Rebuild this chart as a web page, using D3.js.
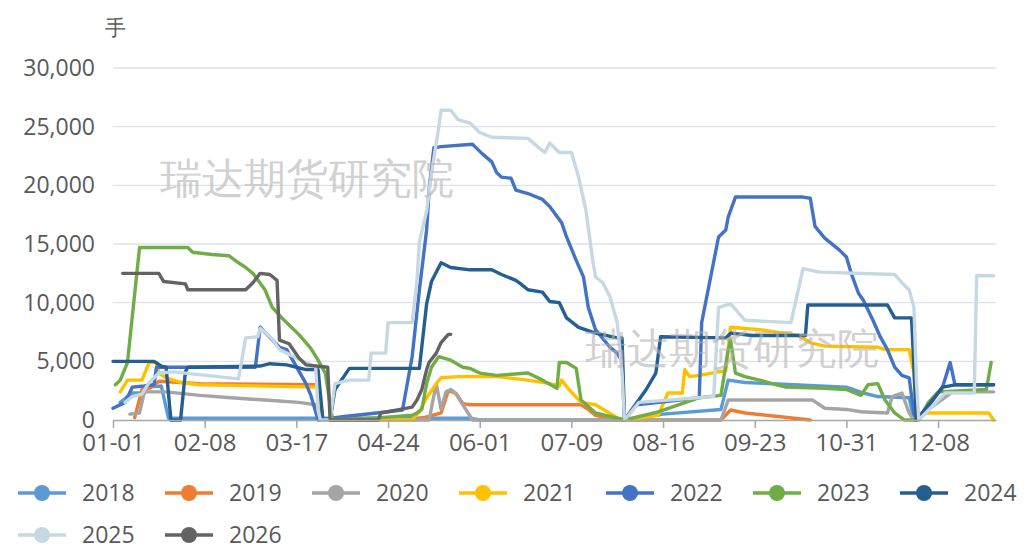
<!DOCTYPE html>
<html>
<head>
<meta charset="utf-8">
<script src="https://d3js.org/d3.v7.min.js"></script>
<style>
    body { margin: 0; background: #fff; }
    text { font-family: "Open Sans", "Noto Sans", sans-serif; fill: #595959; }
</style>
</head>
<body>
<svg id="chart" width="1027" height="549"></svg>
<script>
    // series names and colours (legend order)
    var years = ["2018", "2019", "2020", "2021", "2022", "2023", "2024", "2025", "2026"];
    var colors = ["#5B9BD5", "#ED7D31", "#A5A5A5", "#FFC000", "#4472C4", "#70AD47", "#255E91", "#C6D9E3", "#636363"];

    // category axis labels, every 38 days
    var tickDates = ["01-01", "02-08", "03-17", "04-24", "06-01", "07-09", "08-16", "09-23", "10-31", "12-08"];
    var yTicks = [0, 5000, 10000, 15000, 20000, 25000, 30000];

    // values: [MM-DD, 手]
    var s2018 = [["01-04",1500],["01-07",2000],["01-09",2300],["01-14",2300],["01-15",2800],["01-21",2900],["01-24",150],
        ["05-28",150],["06-01",0],["07-31",0],["08-16",500],["09-09",900],["09-12",3400],["09-19",3200],["10-31",2800],
        ["11-07",2300],["11-13",2000],["11-26",1900],["11-28",0]];
    var s2019 = [["01-10",200],["01-13",2600],["01-16",2700],["01-20",3300],["02-06",3100],["03-26",3000],["03-28",0],
        ["05-04",0],["05-11",300],["05-16",600],["05-19",2500],["05-22",2300],["05-25",1400],["05-28",1300],["07-13",1300],
        ["07-16",900],["07-19",400],["07-28",0],["09-09",0],["09-13",850],["09-19",600],["10-16",0]];
    var s2020 = [["01-08",500],["01-12",600],["01-14",2400],["01-23",2400],["02-06",2100],["02-19",1900],["03-04",1700],
        ["03-18",1500],["03-25",1300],["03-27",0],["05-11",0],["05-14",3100],["05-16",900],["05-18",2400],["05-20",2600],
        ["05-22",2300],["05-25",1300],["05-29",0],["09-09",0],["09-12",1700],["10-17",1700],["10-22",1000],["10-31",900],
        ["11-06",700],["11-17",600],["11-19",2000],["11-23",2300],["11-26",600],["11-28",0],["12-14",2400],["12-31",2400]];
    var s2021 = [["01-04",2400],["01-07",3400],["01-13",3400],["01-16",4900],["01-19",4900],["01-20",4000],["01-23",3600],
        ["01-29",3200],["02-06",3000],["03-26",2800],["03-28",0],["05-04",0],["05-07",700],["05-10",1900],["05-14",3100],
        ["05-16",3600],["05-23",3700],["06-08",3700],["06-21",3400],["06-30",3100],["07-04",2900],["07-05",3400],
        ["07-08",2600],["07-13",1500],["07-19",1300],["07-23",800],["07-28",200],["07-31",0],["08-14",400],["08-18",2300],
        ["08-24",2300],["08-25",4300],["08-27",3700],["08-31",3800],["09-08",4100],["09-11",4200],["09-13",7900],
        ["09-25",7700],["10-11",7200],["10-16",6600],["10-22",6300],["11-13",6200],["11-16",6000],["11-26",6000],
        ["11-28",4000],["11-29",0],["12-03",600],["12-29",600],["12-31",0]];
    var s2022 = [["01-01",1000],["01-06",1500],["01-09",2800],["01-14",2900],["01-18",3000],["01-19",4500],["02-29",4500],
        ["03-02",7900],["03-10",6200],["03-13",6000],["03-21",3100],["03-23",2100],["03-26",0],["04-06",300],["04-24",700],
        ["04-30",850],["05-04",5400],["05-07",11100],["05-10",16200],["05-11",19600],["05-13",23200],["05-16",23300],
        ["05-29",23500],["05-30",23300],["06-02",22700],["06-06",22000],["06-08",21100],["06-10",20700],["06-14",20600],
        ["06-16",19600],["06-21",19300],["06-27",18800],["06-30",18200],["07-05",16800],["07-07",15600],["07-11",13600],
        ["07-14",12200],["07-16",9600],["07-19",7700],["07-25",6200],["07-28",5700],["07-30",5000],["07-31",0],
        ["08-05",1300],["08-31",1900],["09-01",8300],["09-08",15600],["09-11",16200],["09-12",17300],["09-15",19000],
        ["10-13",19000],["10-16",18900],["10-18",16500],["10-22",15500],["10-28",14500],["10-31",13900],["11-02",12500],
        ["11-05",10800],["11-07",10200],["11-11",8500],["11-14",7100],["11-17",6000],["11-20",4500],["11-23",3800],
        ["11-26",3600],["11-28",500],["11-30",0],["12-10",2900],["12-13",4900],["12-15",3000],["12-31",3000]];
    var s2023 = [["01-02",3000],["01-04",3400],["01-07",4900],["01-12",14700],["02-01",14700],["02-03",14300],
        ["02-11",14100],["02-18",14000],["02-22",13400],["02-25",13000],["02-28",12500],["03-04",11100],["03-07",9600],
        ["03-11",8700],["03-14",8100],["03-18",7300],["03-23",6100],["03-26",5100],["03-29",4000],["04-01",0],
        ["04-21",200],["05-04",400],["05-06",600],["05-08",900],["05-10",3100],["05-12",4500],["05-15",5400],
        ["05-20",5100],["05-25",4500],["05-28",4400],["06-01",4000],["06-08",3800],["06-21",4000],["06-27",3400],
        ["07-03",2700],["07-04",4900],["07-07",4900],["07-11",4400],["07-13",1700],["07-19",600],["07-31",0],
        ["08-14",700],["08-31",1900],["09-09",2100],["09-12",6000],["09-13",6800],["09-15",4000],["09-19",3700],
        ["09-25",3400],["10-02",3000],["10-06",2800],["10-22",2700],["10-31",2600],["11-06",2100],["11-09",3000],
        ["11-13",3100],["11-16",1700],["11-20",600],["11-24",0],["11-30",0],["12-04",1500],["12-08",2400],
        ["12-28",2600],["12-30",4900]];
    var s2024 = [["01-01",5000],["01-18",5000],["01-21",4600],["01-23",4500],["01-25",0],["01-29",0],["01-31",4100],
        ["02-01",4500],["03-02",4600],["03-06",4800],["03-13",4700],["03-21",4300],["03-26",4300],["03-28",0],
        ["03-31",0],["04-02",2600],["04-08",4400],["05-07",4400],["05-10",9900],["05-12",11800],["05-16",13400],
        ["05-20",13000],["05-28",12800],["06-06",12800],["06-10",12400],["06-16",11900],["06-18",11600],["06-21",11100],
        ["06-27",10900],["06-30",10100],["07-04",10000],["07-07",8700],["07-12",7900],["07-19",7400],["07-28",7000],
        ["07-30",7000],["07-31",0],["08-09",2600],["08-13",4000],["08-15",7100],["09-11",7000],["09-13",7400],
        ["09-22",7200],["10-14",7200],["10-15",9800],["11-17",9800],["11-20",8700],["11-27",8700],["11-29",0],
        ["12-10",2800],["12-15",3000],["12-31",3000]];
    var s2025 = [["01-06",1500],["01-09",2000],["01-13",2200],["01-16",3200],["01-20",4000],["01-26",4100],
        ["02-22",3500],["02-25",7000],["03-01",7100],["03-02",7800],["03-04",7500],["03-07",6900],["03-10",6000],
        ["03-13",5700],["03-25",4500],["03-26",800],["03-27",0],["03-31",0],["04-02",3100],["04-08",3400],
        ["04-16",3400],["04-17",5700],["04-23",5700],["04-24",8300],["05-04",8300],["05-06",11900],["05-07",15200],
        ["05-10",17800],["05-12",21000],["05-15",24900],["05-16",26400],["05-20",26400],["05-23",25600],["05-28",25300],
        ["06-01",24500],["06-06",24100],["06-21",24000],["06-25",23300],["06-28",22800],["06-30",23600],["07-04",22800],
        ["07-09",22800],["07-12",20700],["07-15",17900],["07-18",13400],["07-19",12200],["07-22",11700],["07-25",10500],
        ["07-28",8300],["07-30",4000],["07-31",0],["08-06",1500],["09-06",2000],["09-08",9600],["09-13",9900],
        ["09-19",8500],["10-08",8300],["10-13",12900],["10-20",12600],["11-20",12400],["11-23",11700],["11-26",11100],
        ["11-28",9600],["11-29",3400],["11-30",0],["12-11",2300],["12-23",2300],["12-24",12300],["12-31",12300]];
    var s2026 = [["01-05",12500],["01-20",12500],["01-22",11800],["01-31",11600],["02-01",11100],["02-25",11100],
        ["02-28",11700],["03-02",12500],["03-06",12400],["03-09",11900],["03-10",6800],["03-14",6500],["03-18",5300],
        ["03-21",4700],["03-30",4500],["03-31",0],["04-20",0],["04-21",600],["04-29",900],["05-04",1100],["05-06",1700],
        ["05-08",2600],["05-10",4300],["05-11",4900],["05-14",5700],["05-16",6600],["05-19",7300],["05-20",7300]];

    var seriesData = [s2018, s2019, s2020, s2021, s2022, s2023, s2024, s2025, s2026];

    var parseDay = d3.timeParse("%Y-%m-%d");
    function toDate(md) { return parseDay("2024-" + md); }

    var svg = d3.select("#chart");

    var x = d3.scaleTime()
        .domain([new Date(2024, 0, 1), new Date(2025, 0, 1)])
        .range([113, 996]);
    var y = d3.scaleLinear().domain([0, 30000]).range([420, 68]);

    // horizontal gridlines
    svg.append("g")
        .selectAll("line")
        .data(yTicks.filter(function(d) { return d > 0; }))
        .enter().append("line")
        .attr("x1", x.range()[0]).attr("x2", x.range()[1])
        .attr("y1", function(d) { return y(d); })
        .attr("y2", function(d) { return y(d); })
        .attr("stroke", "#dde3ea")
        .attr("stroke-width", 1.3);

    // y axis labels
    var yAxis = svg.append("g")
        .attr("transform", "translate(" + x.range()[0] + ",0)")
        .call(d3.axisLeft(y).tickValues(yTicks).tickFormat(d3.format(",")).tickSize(0).tickPadding(18));
    yAxis.select(".domain").remove();
    yAxis.selectAll("text").attr("font-size", 23).attr("font-family", null).attr("fill", "#595959");

    // unit
    svg.append("text")
        .attr("x", 115).attr("y", 35)
        .attr("text-anchor", "middle")
        .attr("font-size", 21)
        .text("手");

    // lines
    var line = d3.line()
        .x(function(d) { return x(toDate(d[0])); })
        .y(function(d) { return y(d[1]); });

    svg.append("g")
        .selectAll("path")
        .data(seriesData)
        .enter().append("path")
        .attr("d", function(d) { return line(d); })
        .attr("fill", "none")
        .attr("stroke", function(d, i) { return colors[i]; })
        .attr("stroke-width", 3.4)
        .attr("stroke-linejoin", "round")
        .attr("stroke-linecap", "round");

    // x axis
    var xAxis = svg.append("g")
        .attr("transform", "translate(0,420)")
        .call(d3.axisBottom(x)
            .tickValues(tickDates.map(toDate))
            .tickFormat(d3.timeFormat("%m-%d"))
            .tickSize(8).tickSizeOuter(0).tickPadding(6));
    xAxis.select(".domain").attr("stroke", "#a6a6a6").attr("stroke-width", 1.5);
    xAxis.selectAll(".tick line").attr("stroke", "#a6a6a6").attr("stroke-width", 1.5);
    xAxis.selectAll("text").attr("font-size", 24).attr("font-family", null).attr("fill", "#595959");

    // watermark
    [[160, 193], [585, 363]].forEach(function(p) {
        svg.append("text")
            .attr("x", p[0]).attr("y", p[1])
            .attr("font-size", 42)
            .attr("font-family", "Noto Sans CJK SC")
            .style("fill", "#b4b4b4")
            .style("opacity", 0.6)
            .text("瑞达期货研究院");
    });

    // legend
    var legend = svg.append("g");
    years.forEach(function(name, i) {
        var col = i % 7, row = Math.floor(i / 7);
        var lx = 18 + col * 147, ly = 493 + row * 42;
        var g = legend.append("g").attr("transform", "translate(" + lx + "," + ly + ")");
        g.append("line").attr("x1", 0).attr("x2", 48).attr("y1", 0).attr("y2", 0)
            .attr("stroke", colors[i]).attr("stroke-width", 3.5);
        g.append("circle").attr("cx", 24).attr("cy", 0).attr("r", 8).attr("fill", colors[i]);
        g.append("text").attr("x", 64).attr("y", 0).attr("dy", "0.36em")
            .attr("font-size", 23).text(name);
    });
</script>
</body>
</html>
